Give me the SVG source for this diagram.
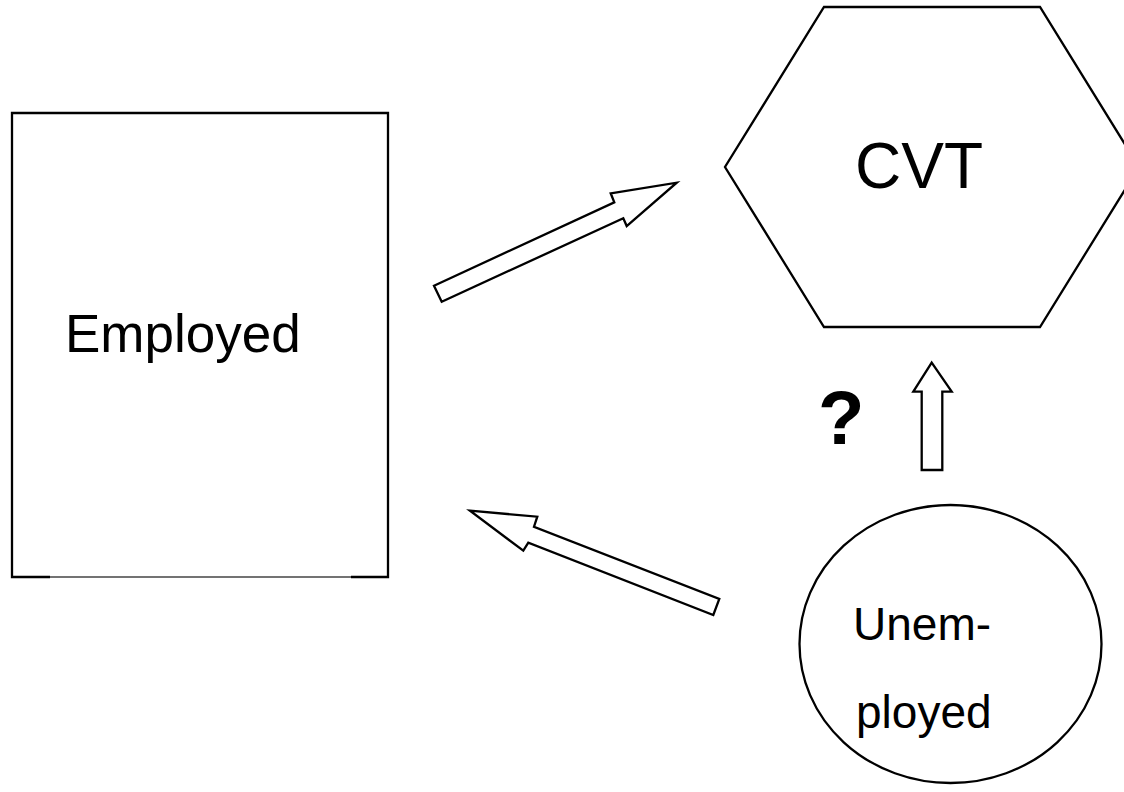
<svg xmlns="http://www.w3.org/2000/svg" width="1124" height="792" viewBox="0 0 1124 792">
<style>
.shape{fill:#fff;stroke:#000;stroke-width:2.3}
.arrow{fill:#fff;stroke:#000;stroke-width:2.3;stroke-linejoin:miter}
.lbl{font-family:"Liberation Sans",Arial,sans-serif;fill:#000}
</style>
<rect width="1124" height="792" fill="#fff"/>
<g id="employed">
<path d="M50,577 L12,577 L12,113 L388,113 L388,577 L351,577" class="shape" fill="none"/>
<line x1="50" y1="577" x2="351" y2="577" stroke="#444" stroke-width="1.5"/>
<text class="lbl" x="65" y="352" font-size="53">Employed</text>
</g>
<g id="cvt">
<polygon class="shape" points="824,7 1040,7 1139,167 1040,327 824,327 725,167"/>
<text class="lbl" x="855" y="188" font-size="64">CVT</text>
</g>
<g id="unemployed">
<ellipse class="shape" cx="950.5" cy="644" rx="151" ry="139"/>
<text class="lbl" x="853" y="640" font-size="46">Unem-</text>
<text class="lbl" x="856" y="728" font-size="46">ployed</text>
</g>
<g id="question">
<text class="lbl" x="818" y="444" font-size="76" font-weight="bold">?</text>
</g>
<g id="connectors">
<polygon class="arrow" points="434,285.7 614.3,202.3 610.7,193.3 676.7,182.7 626.7,226 623.3,218.3 441.7,301.7"/>
<polygon class="arrow" points="470,510.7 537.3,516.7 534,526.7 719.3,599 713.3,615 528.3,542.7 523.3,550.7"/>
<polygon class="arrow" points="931.7,362.7 951.7,391.7 942.3,391.7 942.3,470 921.7,470 921.7,391.7 913.3,391.7"/>
</g>
</svg>
